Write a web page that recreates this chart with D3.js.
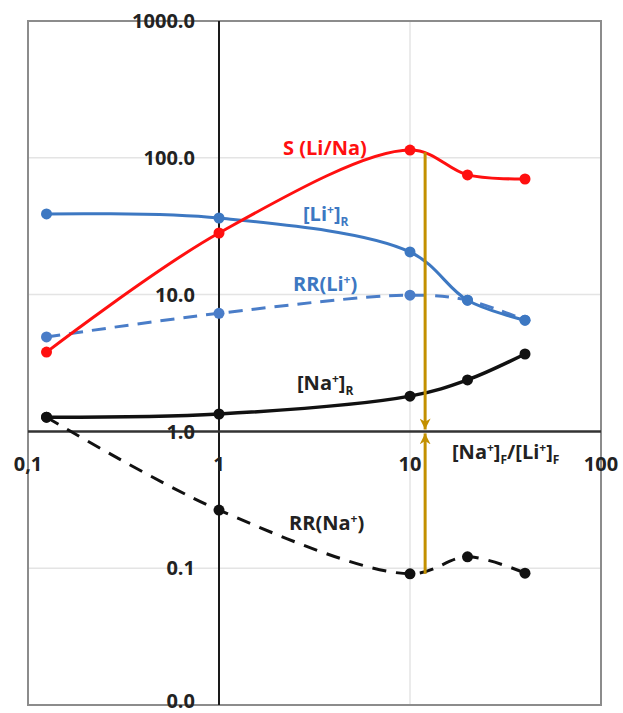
<!DOCTYPE html>
<html>
<head>
<meta charset="utf-8">
<script src="https://cdn.jsdelivr.net/npm/d3@7"></script>
<style>
  body { margin: 0; background: #fff; }
  text { font-family: "Open Sans", "Noto Sans", sans-serif; font-weight: bold; }
</style>
</head>
<body>
<script>
// feed ratio [Na+]F/[Li+]F
const ratio = [0.125, 1, 10, 20, 40];
const selectivity = [3.8, 28.2, 114, 75, 70];
const liR = [38.9, 36.3, 20.5, 9.1, 6.5];
const rrLi = [4.9, 7.3, 9.9, 9.1, 6.5];
const naR = [1.27, 1.34, 1.81, 2.38, 3.68];
const rrNa = [1.27, 0.266, 0.091, 0.121, 0.092];
const yTicks = [1000, 100, 10, 1, 0.1, 0.01];
const yTickLabels = ["1000.0", "100.0", "10.0", "1.0", "0.1", "0.0"];
const xTicks = [0.1, 1, 10, 100];
const xTickLabels = ["0,1", "1", "10", "100"];
const arrowX = 12;
const arrowTop = 110;
const arrowBottom = 0.091;

const width = 623, height = 713;
const svg = d3.select("body").append("svg").attr("width", width).attr("height", height);

const x = d3.scaleLog().domain([0.1, 100]).range([28, 601]);
const y = d3.scaleLog().domain([0.01, 1000]).range([705, 21]);

//gridlines
const grid = svg.append("g");
grid.selectAll("line.h").data([100, 10, 0.1]).enter().append("line")
  .attr("x1", x(0.1)).attr("x2", x(100))
  .attr("y1", d => y(d)).attr("y2", d => y(d))
  .attr("stroke", "#e4e4e4").attr("stroke-width", 1.5);
grid.append("line")
  .attr("x1", x(10)).attr("x2", x(10)).attr("y1", y(1000)).attr("y2", y(0.01))
  .attr("stroke", "#e4e4e4").attr("stroke-width", 1.5);

//border
svg.append("rect")
  .attr("x", x(0.1)).attr("y", y(1000))
  .attr("width", x(100) - x(0.1)).attr("height", y(0.01) - y(1000))
  .attr("fill", "none").attr("stroke", "#8c8c8c").attr("stroke-width", 2);

//axes crossing at 1
svg.append("line")
  .attr("x1", x(1)).attr("x2", x(1)).attr("y1", y(1000)).attr("y2", y(0.01))
  .attr("stroke", "#1a1a1a").attr("stroke-width", 2);
svg.append("line")
  .attr("x1", x(0.1)).attr("x2", x(100)).attr("y1", y(1)).attr("y2", y(1))
  .attr("stroke", "#333").attr("stroke-width", 2.5);

//tick labels
svg.selectAll("text.ytick").data(yTicks).enter().append("text")
  .attr("x", 195).attr("y", d => Math.min(y(d), 701)).attr("dy", "0.36em")
  .attr("text-anchor", "end").attr("font-size", 20).attr("fill", "#222")
  .text((d, i) => yTickLabels[i]);
svg.selectAll("text.xtick").data(xTicks).enter().append("text")
  .attr("x", d => x(d)).attr("y", 464).attr("dy", "0.36em")
  .attr("text-anchor", "middle").attr("font-size", 20).attr("fill", "#222")
  .text((d, i) => xTickLabels[i]);

//series
const pts = vals => ratio.map((r, i) => [r, vals[i]]);
const line = d3.line().x(d => x(d[0])).y(d => y(d[1])).curve(d3.curveCatmullRom.alpha(0.5));

const series = [
  {vals: rrLi, color: "#4a7dc8", dash: "14,9", w: 3},
  {vals: liR, color: "#3d78c2", dash: null, w: 3},
  {vals: rrNa, color: "#111", dash: "14,10", w: 3},
  {vals: naR, color: "#111", dash: null, w: 3.5},
  {vals: selectivity, color: "#ff1010", dash: null, w: 3}
];

series.forEach(s => {
  svg.append("path")
    .attr("d", line(pts(s.vals)))
    .attr("fill", "none").attr("stroke", s.color).attr("stroke-width", s.w)
    .attr("stroke-dasharray", s.dash);
});

//arrow
const gold = "#c39000";
svg.append("defs").append("marker")
  .attr("id", "ah").attr("viewBox", "0 0 10 10").attr("refX", 10).attr("refY", 5)
  .attr("markerWidth", 11).attr("markerHeight", 11).attr("markerUnits", "userSpaceOnUse")
  .attr("orient", "auto")
  .append("path").attr("d", "M0,0 L10,5 L0,10 L3,5 Z").attr("fill", gold);
svg.append("line")
  .attr("x1", x(arrowX)).attr("x2", x(arrowX)).attr("y1", y(arrowTop)).attr("y2", y(1) - 2)
  .attr("stroke", gold).attr("stroke-width", 3).attr("marker-end", "url(#ah)");
svg.append("line")
  .attr("x1", x(arrowX)).attr("x2", x(arrowX)).attr("y1", y(arrowBottom)).attr("y2", y(1) + 2)
  .attr("stroke", gold).attr("stroke-width", 3).attr("marker-end", "url(#ah)");

//dots
series.forEach(s => {
  svg.selectAll(null).data(pts(s.vals)).enter().append("circle")
    .attr("cx", d => x(d[0])).attr("cy", d => y(d[1])).attr("r", 5.5)
    .attr("fill", s.color);
});

//labels
function label(px, py, color, parts) {
  const t = svg.append("text").attr("x", px).attr("y", py).attr("dy", "0.36em")
    .attr("font-size", 20).attr("fill", color);
  parts.forEach(p => {
    const ts = t.append("tspan").text(p[0]);
    if (p[1] === "sup") ts.attr("font-size", 12).attr("dy", -7);
    if (p[1] === "sub") ts.attr("font-size", 12).attr("dy", 5);
    if (p[1] === "back") ts.attr("dy", -5);
    if (p[1] === "up") ts.attr("dy", 7);
  });
}
label(283, 148, "#ff1010", [["S (Li/Na)"]]);
label(303, 214, "#3d78c2", [["[Li"], ["+", "sup"], ["]", "up"], ["R", "sub"]]);
label(293, 284, "#3d78c2", [["RR(Li"], ["+", "sup"], [")", "up"]]);
label(297, 383, "#222", [["[Na"], ["+", "sup"], ["]", "up"], ["R", "sub"]]);
label(289, 523, "#222", [["RR(Na"], ["+", "sup"], [")", "up"]]);
label(452, 452, "#222", [["[Na"], ["+", "sup"], ["]", "up"], ["F", "sub"], ["/[Li", "back"], ["+", "sup"], ["]", "up"], ["F", "sub"]]);
</script>
</body>
</html>
